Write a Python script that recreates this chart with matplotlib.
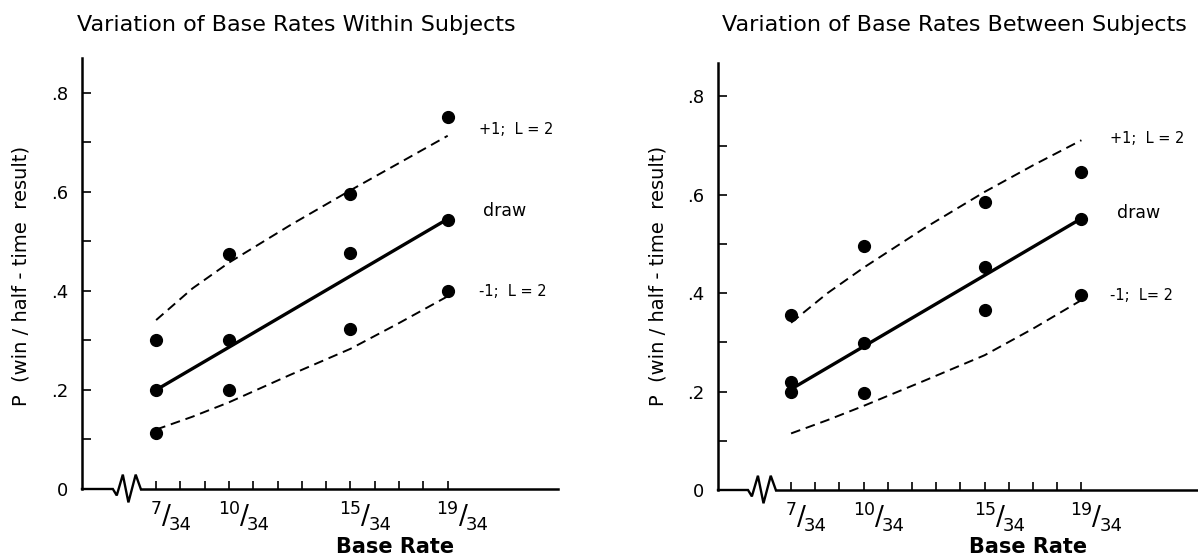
import matplotlib
matplotlib.use('Agg')
import matplotlib.pyplot as plt
from matplotlib.ticker import FixedLocator, NullFormatter

# base rates as numerators over 34
rates = [7, 10, 15, 19]
all_rates = list(range(7, 20))
curve_x = [7, 8.5, 10, 12.5, 15, 17, 19]

# within subjects
within_x = [7, 7, 7, 10, 10, 10, 15, 15, 15, 19, 19, 19]
within_y = [0.30, 0.20, 0.113, 0.475, 0.30, 0.20, 0.595, 0.477, 0.323, 0.75, 0.543, 0.40]
within_plus = [0.341, 0.405, 0.457, 0.532, 0.603, 0.658, 0.713]
within_minus = [0.12, 0.146, 0.175, 0.23, 0.283, 0.335, 0.389]
within_draw = [0.20, 0.545]

# between subjects
between_x = [7, 7, 7, 10, 10, 10, 15, 15, 15, 19, 19, 19]
between_y = [0.355, 0.22, 0.20, 0.497, 0.298, 0.198, 0.586, 0.454, 0.366, 0.646, 0.551, 0.396]
between_plus = [0.34, 0.40, 0.452, 0.532, 0.606, 0.66, 0.711]
between_minus = [0.115, 0.142, 0.171, 0.222, 0.274, 0.328, 0.386]
between_draw = [0.205, 0.552]

W, H = 1198, 560
fig = plt.figure(figsize=(W / 100, H / 100), dpi=100)


def rate_label(ax, r):
    # numerator raised, tall slash, then the denominator, side by side
    num = ax.annotate(str(r), xy=(r, 0), xycoords=('data', 'axes fraction'),
                      xytext=(0, -8), textcoords='offset points',
                      ha='center', va='top', fontsize=12.5, annotation_clip=False)
    sl = ax.annotate('/', xy=(1, 0), xycoords=num, xytext=(0, 0.5),
                     textcoords='offset points', ha='left', va='center', fontsize=19)
    ax.annotate('34', xy=(1, 0), xycoords=(sl, num), xytext=(-1.5, -8.5),
                textcoords='offset points', ha='left', va='baseline', fontsize=13)


def panel(rect, xlim, ylim, title, title_x, px, py, plus, minus, draw,
          lab_x, draw_x, lab_y, minus_text):
    ax = fig.add_axes(rect)
    ax.set_xlim(*xlim)
    ax.set_ylim(*ylim)
    for s in ['top', 'right']:
        ax.spines[s].set_visible(False)
    ax.spines['left'].set_linewidth(1.8)
    ax.spines['bottom'].set_linewidth(1.8)
    # axis line after the break; the part before is drawn with the zigzag
    ax.spines['bottom'].set_bounds(6.37, xlim[1])
    zz_x = [xlim[0], 5.22, 5.38, 5.63, 5.86, 6.16, 6.37]
    zz_y = [0, 0, -0.013, 0.029, -0.027, 0.029, 0]
    ax.plot(zz_x, zz_y, color='black', lw=1.7, clip_on=False, solid_joinstyle='miter')

    ax.plot(curve_x, plus, color='black', lw=1.4, dashes=(5, 3))
    ax.plot(curve_x, minus, color='black', lw=1.4, dashes=(5, 3))
    ax.plot([rates[0], rates[-1]], draw, color='black', lw=2.4)
    ax.plot(px, py, 'o', color='black', ms=8.5, clip_on=False)

    ax.yaxis.set_major_locator(FixedLocator([0, 0.2, 0.4, 0.6, 0.8]))
    ax.yaxis.set_minor_locator(FixedLocator([0.1, 0.3, 0.5, 0.7]))
    ax.set_yticklabels(['0', '.2', '.4', '.6', '.8'])
    ax.tick_params(axis='y', which='both', direction='in', length=6.5, width=1.2,
                   pad=10, labelsize=13)
    ax.xaxis.set_major_locator(FixedLocator(rates))
    ax.xaxis.set_minor_locator(FixedLocator([r for r in all_rates if r not in rates]))
    ax.xaxis.set_major_formatter(NullFormatter())
    ax.tick_params(axis='x', which='both', direction='in', length=5.8, width=1.2)
    for r in rates:
        rate_label(ax, r)

    ax.text(lab_x, lab_y[0], '+1;  L = 2', fontsize=10.5, va='center')
    ax.text(draw_x, lab_y[1], 'draw', fontsize=12.5, va='center')
    ax.text(lab_x, lab_y[2], minus_text, fontsize=10.5, va='center')

    fig.text(title_x, 0.955, title, fontsize=16, ha='center', va='center')
    return ax


panel([82 / W, 71 / H, 476 / W, 431 / H], (3.95, 23.54), (0, 0.87),
      'Variation of Base Rates Within Subjects', 0.247,
      within_x, within_y, within_plus, within_minus, within_draw,
      20.3, 20.45, [0.725, 0.562, 0.398], '-1;  L = 2')
panel([718 / W, 70 / H, 0.41, 427 / H], (3.98, 24.28), (0, 0.868),
      'Variation of Base Rates Between Subjects', 0.797,
      between_x, between_y, between_plus, between_minus, between_draw,
      20.2, 20.45, [0.715, 0.563, 0.396], '-1;  L= 2')

for x in [0.0175, 0.549]:
    fig.text(x, 0.507, 'P  (win / half - time  result)', rotation=90,
             fontsize=14, ha='center', va='center')
for x in [0.33, 0.858]:
    fig.text(x, 0.024, 'Base Rate', fontsize=15, fontweight='bold',
             ha='center', va='center')

fig.savefig('out.png', dpi=100)
